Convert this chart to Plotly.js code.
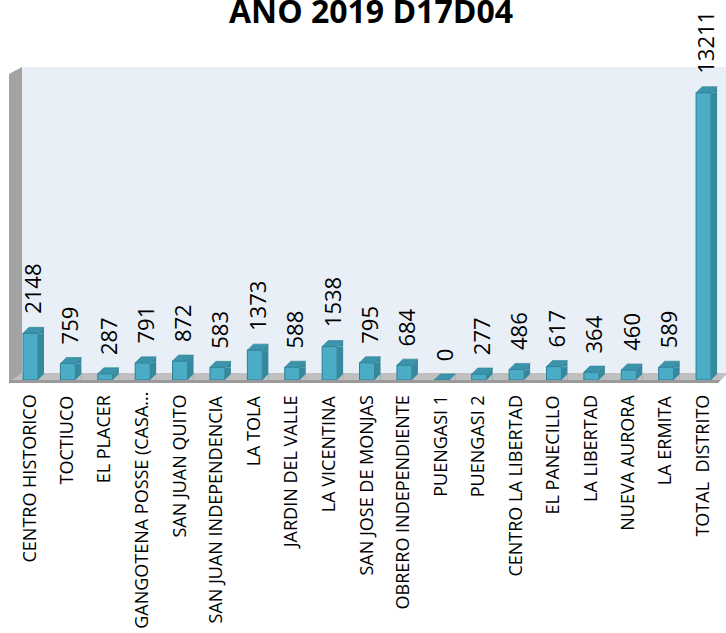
<!DOCTYPE html>
<html>
<head>
<meta charset="utf-8">
<script src="https://cdn.plot.ly/plotly-3.0.1.min.js"></script>
<style>html,body{margin:0;padding:0;background:#fff;}#chart{width:726px;height:633px;}</style>
</head>
<body>
<div id="chart"></div>
<script>
// ---- data ----
const categories = [
  "CENTRO HISTORICO", "TOCTIUCO", "EL PLACER", "GANGOTENA POSSE (CASA...",
  "SAN JUAN QUITO", "SAN JUAN INDEPENDENCIA", "LA TOLA", "JARDIN DEL VALLE",
  "LA VICENTINA", "SAN JOSE DE MONJAS", "OBRERO INDEPENDIENTE", "PUENGASI 1",
  "PUENGASI 2", "CENTRO LA LIBERTAD", "EL PANECILLO", "LA LIBERTAD",
  "NUEVA AURORA", "LA ERMITA", "TOTAL\u00a0\u00a0DISTRITO"
];
const values = [2148, 759, 287, 791, 872, 583, 1373, 588, 1538, 795, 684, 0, 277, 486, 617, 364, 460, 589, 13211];
const titleText = "AÑO 2019 D17D04";

// ---- layout geometry (pixels) ----
const W = 726, H = 633;
const mT = 67, mB = 253, mL = 0, mR = 0;
const plotH = H - mT - mB;           // 313
const yMax = 14393;
const xMin = -0.8157, xMax = 18.60;
const barW = 0.401;
const halfPx = 7.5, dX = 6, dY = 6;
const catFontSize = 18, valFontSize = 22;

const FRONT = '#4bacc6', EDGE = '#2f7f95', SIDE = '#35899f', TOP = '#3c94ab';
const FLOOR = '#c0c0c0', FLOOR_EDGE = '#9a9a9a', WALL = '#a3a3a3', BACK = '#e9eff7';

const idx = categories.map((_, i) => i);

// pixel -> paper helpers for decoration
const PX = p => (p - mL) / (W - mL - mR);
const PY = p => (H - mB - p) / plotH;
const poly = pts => 'M ' + pts.map(([x, y]) => PX(x) + ',' + PY(y)).join(' L ') + ' Z';

const shapes = [];
shapes.push({type: 'rect', xref: 'paper', yref: 'paper', x0: PX(22), x1: PX(726), y0: PY(373), y1: PY(67),
  fillcolor: BACK, line: {width: 0}, layer: 'below'});
shapes.push({type: 'path', xref: 'paper', yref: 'paper', path: poly([[9, 74], [22, 67], [22, 373], [9, 384]]),
  fillcolor: WALL, line: {width: 0}, layer: 'below'});
shapes.push({type: 'path', xref: 'paper', yref: 'paper', path: poly([[12, 380], [22, 373], [726, 373], [726, 375], [721, 380]]),
  fillcolor: FLOOR, line: {width: 0}, layer: 'below'});
shapes.push({type: 'path', xref: 'paper', yref: 'paper', path: poly([[12, 380], [721, 380], [718, 383], [9, 383]]),
  fillcolor: FLOOR_EDGE, line: {width: 0}, layer: 'below'});

values.forEach((v, i) => {
  shapes.push({type: 'rect', xref: 'x', yref: 'y', xsizemode: 'pixel', xanchor: i,
    x0: halfPx, x1: halfPx + dX, y0: 0, y1: v, fillcolor: SIDE, line: {width: 0}, layer: 'above'});
  shapes.push({type: 'path', xref: 'x', yref: 'y', xsizemode: 'pixel', ysizemode: 'pixel', xanchor: i, yanchor: v,
    path: `M ${halfPx},0 L ${halfPx + dX},${dY} L ${halfPx + dX},0 Z`, fillcolor: SIDE, line: {width: 0}, layer: 'above'});
  shapes.push({type: 'path', xref: 'x', yref: 'y', xsizemode: 'pixel', ysizemode: 'pixel', xanchor: i, yanchor: 0,
    path: `M ${halfPx},0 L ${halfPx + dX},0 L ${halfPx + dX},${dY} Z`, fillcolor: FLOOR, line: {width: 0}, layer: 'above'});
  shapes.push({type: 'path', xref: 'x', yref: 'y', xsizemode: 'pixel', ysizemode: 'pixel', xanchor: i, yanchor: v,
    path: `M ${-halfPx},0 L ${halfPx},0 L ${halfPx + dX},${dY} L ${-halfPx + dX},${dY} Z`,
    fillcolor: TOP, line: {color: EDGE, width: 0.6}, layer: 'above'});
});

// value labels
const annotations = values.map((v, i) => ({
  x: i, y: v, xref: 'x', yref: 'y', text: String(v), showarrow: false,
  textangle: -90, xanchor: 'center', yanchor: 'bottom', yshift: 18, xshift: 2,
  borderpad: 0, font: {family: 'Open Sans', size: valFontSize, color: '#000'}
}));

// category labels: start just below the floor, raised if they would run off the bottom
const ctx = document.createElement('canvas').getContext('2d');
ctx.font = catFontSize + 'px "Open Sans"';
const baseDrop = 14, bottomLimit = 630 - (H - mB);
categories.forEach((c, i) => {
  const len = ctx.measureText(c).width + 2;
  const drop = Math.min(baseDrop, bottomLimit - len);
  annotations.push({
    x: i, y: 0, xref: 'x', yref: 'y', text: c, showarrow: false,
    textangle: -90, xanchor: 'center', yanchor: 'top', yshift: -drop, xshift: -2,
    borderpad: 0, font: {family: 'Open Sans', size: catFontSize, color: '#000'}
  });
});

const trace = {
  type: 'bar', x: idx, y: values, width: barW,
  marker: {color: FRONT, line: {color: EDGE, width: 1}},
  hoverinfo: 'skip', cliponaxis: false
};

const layout = {
  width: W, height: H,
  margin: {l: mL, r: mR, t: mT, b: mB, pad: 0},
  paper_bgcolor: '#ffffff', plot_bgcolor: 'rgba(0,0,0,0)',
  showlegend: false,
  title: {text: titleText, font: {family: 'Open Sans', size: 32, weight: 'bold', color: '#000'},
    x: 371 / W, xanchor: 'center', xref: 'paper', yref: 'container', y: 1 - 23 / H, yanchor: 'bottom'},
  xaxis: {range: [xMin, xMax], tickvals: idx, ticktext: categories, showticklabels: false,
    showgrid: false, zeroline: false, showline: false, ticks: '', fixedrange: true, automargin: false},
  yaxis: {range: [0, yMax], showgrid: false, zeroline: false, showline: false, showticklabels: false,
    ticks: '', fixedrange: true},
  shapes: shapes,
  annotations: annotations
};

Plotly.newPlot('chart', [trace], layout, {displayModeBar: false, staticPlot: true});
</script>
</body>
</html>
